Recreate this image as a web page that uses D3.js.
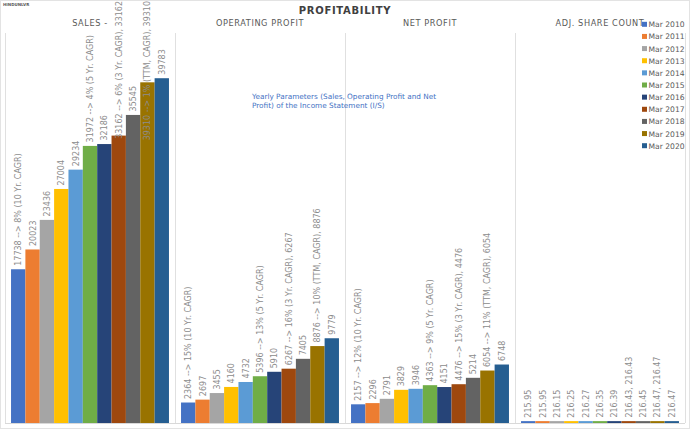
<!DOCTYPE html>
<html><head><meta charset="utf-8">
<script src="https://cdn.jsdelivr.net/npm/d3@7"></script>
<style>
html,body{margin:0;padding:0;background:#fff;}
svg{display:block;font-family:"DejaVu Sans",Verdana,sans-serif;}
</style></head>
<body><svg id="c" width="690" height="429"></svg>
<script>
const years = ["Mar 2010","Mar 2011","Mar 2012","Mar 2013","Mar 2014","Mar 2015","Mar 2016","Mar 2017","Mar 2018","Mar 2019","Mar 2020"];
const colors = ["#4472C4","#ED7D31","#A5A5A5","#FFC000","#5B9BD5","#70AD47","#264478","#9E480E","#636363","#997300","#255E91"];
const panels = ["SALES -","OPERATING PROFIT","NET PROFIT","ADJ. SHARE COUNT"];

const sales = [17738,20023,23436,27004,29234,31972,32186,33162,35545,39310,39783];
const opProfit = [2364,2697,3455,4160,4732,5396,5910,6267,7405,8876,9779];
const netProfit = [2157,2296,2791,3829,3946,4363,4151,4476,5214,6054,6748];
const shares = [215.95,215.95,216.15,216.25,216.27,216.35,216.39,216.43,216.45,216.47,216.47];

const salesLabels = ["17738 --> 8% (10 Yr. CAGR)","20023","23436","27004","29234","31972 --> 4% (5 Yr. CAGR)","32186","33162 --> 6% (3 Yr. CAGR), 33162","35545","39310 --> 1% (TTM, CAGR), 39310","39783"];
const opLabels = ["2364 --> 15% (10 Yr. CAGR)","2697","3455","4160","4732","5396 --> 13% (5 Yr. CAGR)","5910","6267 --> 16% (3 Yr. CAGR), 6267","7405","8876 --> 10% (TTM, CAGR), 8876","9779"];
const netLabels = ["2157 --> 12% (10 Yr. CAGR)","2296","2791","3829","3946","4363 --> 9% (5 Yr. CAGR)","4151","4476 --> 15% (3 Yr. CAGR), 4476","5214","6054 --> 11% (TTM, CAGR), 6054","6748"];
const shareLabels = ["215.95","215.95","216.15","216.25","216.27","216.35","216.39","216.43, 216.43","216.45","216.47, 216.47","216.47"];

const seriesValues = [sales, opProfit, netProfit, shares];
const seriesLabels = [salesLabels, opLabels, netLabels, shareLabels];

const svg = d3.select("#c");
const W = 690, H = 429;
const plotTop = 33, base = 423;

svg.append("rect").attr("x",0.5).attr("y",0.5).attr("width",W-1).attr("height",H-1)
  .attr("fill","#fff").attr("stroke","#e3e3e3");

const px = d3.scaleBand().domain(panels).range([5,685]).padding(0);
const ix = d3.scaleBand().domain(years).range([0, px.bandwidth()]).paddingInner(0).paddingOuter(0.42);
const y = d3.scaleLinear().domain([0,45000]).range([base, plotTop]);

// title
svg.append("text").attr("x",345).attr("y",14).attr("text-anchor","middle")
  .attr("font-size",10).attr("font-weight","bold").attr("letter-spacing",0.7).attr("fill","#404040")
  .text("PROFITABILITY");
svg.append("text").attr("x",3).attr("y",6).attr("font-size",4).attr("font-weight","bold").attr("fill","#595959").text("HINDUNLVR");

// panel frames
panels.forEach(p => {
  const x0 = px(p);
  svg.append("line").attr("x1",x0+0.5).attr("x2",x0+0.5).attr("y1",plotTop).attr("y2",base).attr("stroke","#e0e0e0");
});
svg.append("line").attr("x1",685.5).attr("x2",685.5).attr("y1",plotTop).attr("y2",base).attr("stroke","#e0e0e0");
svg.append("line").attr("x1",5).attr("x2",685).attr("y1",base+0.5).attr("y2",base+0.5).attr("stroke","#d9d9d9");

// panel headers
panels.forEach(p => {
  svg.append("text").attr("x",px(p)+px.bandwidth()/2).attr("y",26).attr("text-anchor","middle")
    .attr("font-size",8.2).attr("letter-spacing",0.6).attr("fill","#595959").text(p);
});

// bars
panels.forEach((p,pi) => {
  const g = svg.append("g").attr("transform",`translate(${px(p)},0)`);
  const vals = seriesValues[pi];
  g.selectAll("rect").data(vals).join("rect")
    .attr("x",(d,i)=>ix(years[i]))
    .attr("width",ix.bandwidth())
    .attr("y",d=>y(d))
    .attr("height",d=>base - y(d))
    .attr("fill",(d,i)=>colors[i]);
});

// labels
panels.forEach((p,pi) => {
  const g = svg.append("g").attr("transform",`translate(${px(p)},0)`);
  const vals = seriesValues[pi];
  const labs = seriesLabels[pi];
  vals.forEach((v,i) => {
    const t = g.append("text").attr("font-size",8).attr("fill","#8c8c8c").text(labs[i]);
    const len = t.node().getComputedTextLength();
    let y0 = y(v) - 3.5;
    if (y0 - len < 1) y0 = len + 1;
    const cx = ix(years[i]) + ix.bandwidth()/2 + 3;
    t.attr("transform",`translate(${cx},${y0}) rotate(-90)`);
  });
});

// annotation
const ann = svg.append("text").attr("x",252).attr("y",99).attr("font-size",7.3).attr("fill","#4472C4");
ann.append("tspan").attr("x",252).attr("dy",0).text("Yearly Parameters (Sales, Operating Profit and Net");
ann.append("tspan").attr("x",252).attr("dy",9).text("Profit) of the Income Statement (I/S)");

// legend
const lg = svg.append("g");
years.forEach((yr,i) => {
  const cy = 24.3 + i*12.14;
  lg.append("rect").attr("x",642).attr("y",cy-2.5).attr("width",5).attr("height",5).attr("fill",colors[i]);
  lg.append("text").attr("x",648.5).attr("y",cy+3).attr("font-size",7.6).attr("fill","#595959").text(yr);
});
</script></body></html>
